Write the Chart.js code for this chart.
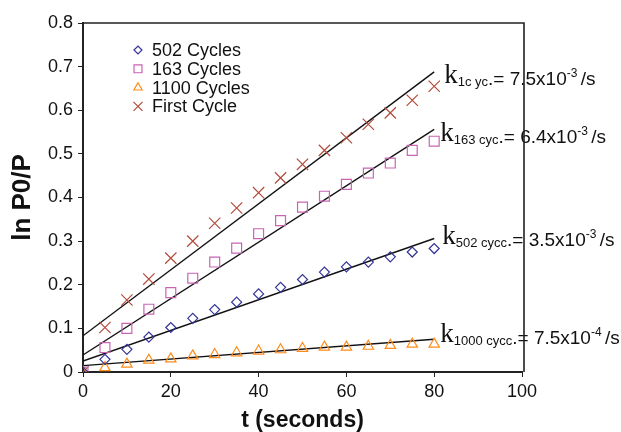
<!DOCTYPE html>
<html>
<head>
<meta charset="utf-8">
<script src="https://cdn.jsdelivr.net/npm/chart.js@4.4.1/dist/chart.umd.min.js"></script>
<style>
  html, body { margin: 0; padding: 0; background: #fff; }
  #wrap { width: 621px; height: 432px; }
</style>
</head>
<body>
<div id="wrap"><canvas id="rateChart" width="621" height="432"></canvas></div>
<script>
// time points (seconds)
const times = [0, 5, 10, 15, 20, 25, 30, 35, 40, 45, 50, 55, 60, 65, 70, 75, 80];

// ln P0/P
const cycles502 = [0, 0.029, 0.052, 0.080, 0.102, 0.123, 0.143, 0.160, 0.179, 0.194, 0.212, 0.229, 0.241, 0.252, 0.264, 0.275, 0.283];
const cycles163 = [0, 0.056, 0.100, 0.144, 0.182, 0.215, 0.252, 0.284, 0.317, 0.347, 0.378, 0.403, 0.430, 0.456, 0.479, 0.508, 0.529];
const cycles1100 = [0, 0.010, 0.018, 0.027, 0.030, 0.037, 0.040, 0.044, 0.048, 0.051, 0.054, 0.057, 0.057, 0.059, 0.061, 0.064, 0.064];
const firstCycle = [0, 0.102, 0.165, 0.213, 0.261, 0.300, 0.341, 0.376, 0.411, 0.445, 0.476, 0.508, 0.537, 0.568, 0.594, 0.623, 0.655];

const seriesNames = ['502 Cycles', '163 Cycles', '1100 Cycles', 'First Cycle'];

// linear fits: order first, 163, 502, 1100
const fitT = [0, 80];
const fitStart = [0.083, 0.039, 0.025, 0.0147];
const fitEnd = [0.688, 0.556, 0.306, 0.075];

// rate constant labels (same order as fits)
const rateSubs = ['1c yc', '163 cyc', '502 cycc', '1000 cycc'];
const rateValues = ['7.5', '6.4', '3.5', '7.5'];
const rateExps = ['-3', '-3', '-3', '-4'];

const xTicks = [0, 20, 40, 60, 80, 100];
const xTickLabels = ['0', '20', '40', '60', '80', '100'];
const yTicks = [0, 0.1, 0.2, 0.3, 0.4, 0.5, 0.6, 0.7, 0.8];
const yTickLabels = ['0', '0.1', '0.2', '0.3', '0.4', '0.5', '0.6', '0.7', '0.8'];

// ---- styling ----
const SANS = "'Liberation Sans', Arial, sans-serif";
const SERIF = "'Liberation Serif', 'Times New Roman', serif";
const markerStyles = [
  { color: '#333399', style: 'rectRot', radius: 5 },
  { color: '#c864b4', style: 'rect', radius: 7 },
  { color: '#ff8c1a', style: 'triangle', radius: 6 },
  { color: '#b24c3c', style: 'crossRot', radius: 8 },
];
// pixel nudges for the rate labels relative to the fit line end
const labelDx = [10, 6, 8, 6];
const labelDy = [13, 14, 7, 5];

function pts(ys) {
  return times.map((t, i) => ({ x: t, y: ys[i] }));
}

const seriesValues = [cycles502, cycles163, cycles1100, firstCycle];

const datasets = seriesValues.map((vals, i) => ({
  type: 'scatter',
  label: seriesNames[i],
  data: pts(vals),
  showLine: false,
  pointStyle: markerStyles[i].style,
  pointRadius: markerStyles[i].radius,
  pointBorderColor: markerStyles[i].color,
  pointBackgroundColor: 'rgba(0,0,0,0)',
  pointBorderWidth: 1.2,
}));

fitStart.forEach((v, i) => {
  datasets.push({
    type: 'line',
    label: 'fit' + i,
    data: [{ x: fitT[0], y: v }, { x: fitT[1], y: fitEnd[i] }],
    borderColor: '#111',
    borderWidth: 1.4,
    pointRadius: 0,
    fill: false,
  });
});

// Legend inside the plot
const legendPlugin = {
  id: 'insideLegend',
  afterDraw(chart) {
    const ctx = chart.ctx;
    ctx.save();
    seriesNames.forEach((name, i) => {
      const y = 50 + i * 18.8;
      const m = markerStyles[i];
      ctx.strokeStyle = m.color;
      ctx.fillStyle = 'rgba(0,0,0,0)';
      ctx.lineWidth = 1.2;
      Chart.helpers.drawPoint(ctx, { pointStyle: m.style, radius: m.radius * 0.8, rotation: 0, borderWidth: 1.2 }, 138, y);
      ctx.fillStyle = '#111';
      ctx.font = '18px ' + SANS;
      ctx.textBaseline = 'middle';
      ctx.textAlign = 'left';
      ctx.fillText(name, 152, y + 1);
    });
    ctx.restore();
  }
};

// k = ... labels next to the fit lines, then the frame on top
const rateLabelPlugin = {
  id: 'rateLabels',
  afterDraw(chart) {
    const ctx = chart.ctx;
    const xs = chart.scales.x, ys = chart.scales.y;
    ctx.save();
    ctx.fillStyle = '#111';
    ctx.textBaseline = 'alphabetic';
    ctx.textAlign = 'left';
    rateSubs.forEach((sub, i) => {
      let x = xs.getPixelForValue(fitT[1]) + labelDx[i];
      const base = ys.getPixelForValue(fitEnd[i]) + labelDy[i];
      ctx.font = '27px ' + SERIF;
      ctx.fillText('k', x, base - 2);
      x += ctx.measureText('k').width;
      ctx.font = '13px ' + SANS;
      ctx.fillText(sub, x, base + 1);
      x += ctx.measureText(sub).width;
      ctx.font = '19px ' + SANS;
      ctx.fillText('.', x, base);
      x += ctx.measureText('.').width;
      const main = '= ' + rateValues[i] + 'x10';
      ctx.fillText(main, x, base);
      x += ctx.measureText(main).width;
      ctx.font = '12px ' + SANS;
      ctx.fillText(rateExps[i], x, base - 8);
      x += ctx.measureText(rateExps[i]).width;
      ctx.font = '19px ' + SANS;
      ctx.fillText(' /s', x - 2, base);
    });

    // top and right frame lines
    const a = chart.chartArea;
    ctx.strokeStyle = '#222';
    ctx.lineWidth = 1.6;
    ctx.beginPath();
    ctx.moveTo(a.left, a.top);
    ctx.lineTo(a.right + 2, a.top);
    ctx.lineTo(a.right + 2, a.bottom);
    ctx.stroke();
    ctx.restore();
  }
};

new Chart(document.getElementById('rateChart'), {
  data: { datasets },
  options: {
    responsive: false,
    animation: false,
    layout: { padding: { left: 0, right: 99, top: 23, bottom: 0 } },
    plugins: {
      legend: { display: false },
      tooltip: { enabled: false },
    },
    scales: {
      x: {
        type: 'linear',
        min: 0,
        max: 100,
        afterBuildTicks: (s) => { s.ticks = xTicks.map(v => ({ value: v })); },
        afterFit: (s) => { s.height = 60; },
        ticks: {
          callback: (v, i) => xTickLabels[i],
          font: { size: 18, family: SANS },
          color: '#111',
          padding: 4,
          maxRotation: 0,
        },
        grid: { drawOnChartArea: false, tickLength: 5, color: '#222' },
        border: { display: true, color: '#222', width: 2 },
        title: {
          display: true,
          text: 't (seconds)',
          font: { size: 23, weight: 'bold', family: SANS, lineHeight: 1 },
          color: '#111',
          padding: { top: 0, bottom: 0 },
        },
      },
      y: {
        type: 'linear',
        min: 0,
        max: 0.8,
        afterBuildTicks: (s) => { s.ticks = yTicks.map(v => ({ value: v })); },
        afterFit: (s) => { s.width = 83; },
        ticks: {
          callback: (v, i) => yTickLabels[i],
          font: { size: 18, family: SANS },
          color: '#111',
          padding: 5,
        },
        grid: { drawOnChartArea: false, tickLength: 5, color: '#222' },
        border: { display: true, color: '#222', width: 2 },
        title: {
          display: true,
          text: 'ln P0/P',
          font: { size: 26, weight: 'bold', family: SANS, lineHeight: 1 },
          color: '#111',
          padding: { top: 10, bottom: 0 },
        },
      },
    },
  },
  plugins: [legendPlugin, rateLabelPlugin],
});
</script>
</body>
</html>
